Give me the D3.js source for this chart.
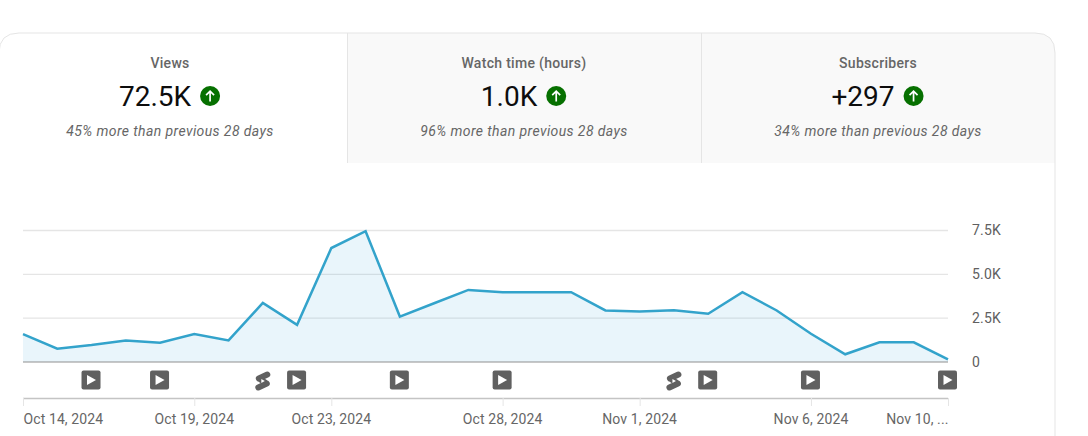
<!DOCTYPE html>
<html>
<head>
<meta charset="utf-8">
<script src="https://cdn.jsdelivr.net/npm/d3@7"></script>
<style>
    html, body { margin: 0; padding: 0; background: #fff; overflow: hidden; }
    svg { display: block; font-family: Roboto, sans-serif; }
</style>
</head>
<body>
<svg id="chart" width="1088" height="436"></svg>
<script>
// card metrics
let metricTitles = ["Views", "Watch time (hours)", "Subscribers"];
let metricValues = ["72.5K", "1.0K", "+297"];
let metricNotes = ["45% more than previous 28 days", "96% more than previous 28 days", "34% more than previous 28 days"];

// daily series, first day is Oct 14 2024
let dayLabels = ["2024-10-14", "2024-10-15", "2024-10-16", "2024-10-17", "2024-10-18", "2024-10-19", "2024-10-20",
    "2024-10-21", "2024-10-22", "2024-10-23", "2024-10-24", "2024-10-25", "2024-10-26", "2024-10-27",
    "2024-10-28", "2024-10-29", "2024-10-30", "2024-10-31", "2024-11-01", "2024-11-02", "2024-11-03",
    "2024-11-04", "2024-11-05", "2024-11-06", "2024-11-07", "2024-11-08", "2024-11-09", "2024-11-10"];
let viewValues = [1590, 760, 970, 1230, 1100, 1590, 1230, 3370, 2120, 6500, 7460, 2590, 3350, 4110,
    3980, 3980, 3980, 2940, 2880, 2950, 2750, 3980, 2940, 1610, 440, 1120, 1120, 150];

let yTicks = [0, 2500, 5000, 7500];
let yTickLabels = ["0", "2.5K", "5.0K", "7.5K"];
let xTickDays = ["2024-10-14", "2024-10-19", "2024-10-23", "2024-10-28", "2024-11-01", "2024-11-06", "2024-11-10"];
let xTickLabels = ["Oct 14, 2024", "Oct 19, 2024", "Oct 23, 2024", "Oct 28, 2024", "Nov 1, 2024", "Nov 6, 2024", "Nov 10, ..."];
let videoDays = ["2024-10-16", "2024-10-18", "2024-10-22", "2024-10-25", "2024-10-28", "2024-11-03", "2024-11-06", "2024-11-10"];
let shortDays = ["2024-10-21", "2024-11-02"];

let parseDay = d3.utcParse("%Y-%m-%d");
let svg = d3.select("svg#chart");

let cardLeft = -1, cardRight = 1055, cardTop = 33, tabBottom = 163, cardBottom = 436, radius = 20;
let tabEdges = [cardLeft, 347, 701, cardRight];

// card outline first, tabs are clipped by it
svg.append("clipPath").attr("id", "cardClip").append("path")
    .attr("d", `M${cardLeft},${cardBottom}V${cardTop + radius}Q${cardLeft},${cardTop} ${cardLeft + radius},${cardTop}H${cardRight - radius}Q${cardRight},${cardTop} ${cardRight},${cardTop + radius}V${cardBottom}Z`);

let tabs = svg.append("g").attr("clip-path", "url(#cardClip)");
metricTitles.forEach(function (title, i) {
    tabs.append("rect")
        .attr("x", tabEdges[i]).attr("y", cardTop)
        .attr("width", tabEdges[i + 1] - tabEdges[i]).attr("height", tabBottom - cardTop)
        .attr("fill", i === 0 ? "#ffffff" : "#f9f9f9");
});
[347, 701].forEach(function (x) {
    svg.append("line").attr("x1", x + 0.5).attr("x2", x + 0.5).attr("y1", cardTop).attr("y2", tabBottom)
        .attr("stroke", "#e5e5e5");
});
svg.append("path")
    .attr("d", `M${cardLeft},${cardBottom}V${cardTop + radius}Q${cardLeft},${cardTop} ${cardLeft + radius},${cardTop}H${cardRight - radius}Q${cardRight},${cardTop} ${cardRight},${cardTop + radius}V${cardBottom}`)
    .attr("fill", "none").attr("stroke", "#e5e5e5");

metricTitles.forEach(function (title, i) {
    let cx = (Math.max(tabEdges[i], 0) + tabEdges[i + 1]) / 2 - (i === 0 ? 3.5 : 0);
    let tab = svg.append("g").attr("transform", "translate(" + cx + ",0)");
    tab.append("text").attr("y", 67.5).attr("text-anchor", "middle")
        .style("font-size", "14px").style("font-weight", 500).style("letter-spacing", "0.3px")
        .style("fill", "#666666").text(title);
    let big = tab.append("text").attr("y", 106).attr("x", -15).attr("text-anchor", "middle")
        .style("font-size", "28px").style("fill", "#0d0d0d").text(metricValues[i]);
    let bigWidth = big.node().getComputedTextLength();
    let badge = tab.append("g").attr("transform", "translate(" + (-15 + bigWidth / 2 + 19) + ",96)");
    badge.append("circle").attr("r", 10).attr("fill", "#067000");
    badge.append("path").attr("d", "M0,5.5V-4.5M-4,-0.8L0,-4.8L4,-0.8")
        .attr("fill", "none").attr("stroke", "#ffffff").attr("stroke-width", 1.7);
    tab.append("text").attr("y", 136).attr("text-anchor", "middle")
        .style("font-size", "14px").style("font-style", "italic").style("letter-spacing", "0.4px")
        .style("fill", "#666666").text(metricNotes[i]);
});

// scales
let xScale = d3.scaleUtc().domain([parseDay(dayLabels[0]), parseDay(dayLabels[dayLabels.length - 1])]).range([23, 948]);
let yScale = d3.scaleLinear().domain([0, 7500]).range([362, 230.5]);

let points = dayLabels.map(function (d, i) { return { day: parseDay(d), val: viewValues[i] }; });

// gridlines
svg.append("g").selectAll("line").data(yTicks.filter(d => d > 0)).join("line")
    .attr("x1", xScale.range()[0]).attr("x2", xScale.range()[1])
    .attr("y1", d => yScale(d)).attr("y2", d => yScale(d))
    .attr("stroke", "#e5e5e5").attr("stroke-width", 1.3);

let area = d3.area().x(d => xScale(d.day)).y0(yScale(0)).y1(d => yScale(d.val));
let line = d3.line().x(d => xScale(d.day)).y(d => yScale(d.val));
svg.append("path").datum(points).attr("d", area).attr("fill", "#2a9fdc").attr("fill-opacity", 0.1);

svg.append("line").attr("x1", xScale.range()[0]).attr("x2", xScale.range()[1])
    .attr("y1", yScale(0)).attr("y2", yScale(0)).attr("stroke", "#909090").attr("stroke-width", 1.2);
svg.append("path").datum(points).attr("d", line).attr("fill", "none")
    .attr("stroke", "#33a3cb").attr("stroke-width", 2.5).attr("stroke-linejoin", "miter");

// y axis labels
let yAxis = d3.axisRight(yScale).tickValues(yTicks).tickSize(0).tickPadding(0)
    .tickFormat((d, i) => yTickLabels[i]);
let yAxisG = svg.append("g").attr("transform", "translate(972,0)").call(yAxis);
yAxisG.select(".domain").remove();
yAxisG.selectAll("text").style("font-size", "14px").style("font-family", "Roboto, sans-serif")
    .style("letter-spacing", "0.2px").style("fill", "#606060");

// x axis
let xAxis = d3.axisBottom(xScale).tickValues(xTickDays.map(parseDay)).tickSize(8).tickPadding(8)
    .tickFormat((d, i) => xTickLabels[i]);
let xAxisG = svg.append("g").attr("transform", "translate(0,398)").call(xAxis);
xAxisG.select(".domain").attr("stroke", "#c4c4c4").attr("stroke-width", 1.4).attr("d", "M23,0.5H948");
xAxisG.selectAll(".tick line").attr("stroke", "#e5e5e5");
xAxisG.selectAll("text").style("font-size", "14px").style("font-family", "Roboto, sans-serif")
    .style("letter-spacing", "0.1px").style("fill", "#666666")
    .attr("dx", (d, i) => i === 0 || i === xTickDays.length - 1 ? 0 : -0.5)
    .attr("text-anchor", (d, i) => i === 0 ? "start" : i === xTickDays.length - 1 ? "end" : "middle");

// content markers
let videoMarks = svg.append("g").selectAll("g").data(videoDays.map(parseDay)).join("g")
    .attr("transform", d => "translate(" + (xScale(d) - 0.5) + ",380)");
videoMarks.append("rect").attr("x", -9.5).attr("y", -9.5).attr("width", 19).attr("height", 19).attr("rx", 2).attr("fill", "#606060");
videoMarks.append("path").attr("d", "M-4,-5L5,0L-4,5Z").attr("fill", "#ffffff");

let shortMarks = svg.append("g").selectAll("g").data(shortDays.map(parseDay)).join("g")
    .attr("transform", d => "translate(" + xScale(d) + ",381)");
shortMarks.append("path")
    .attr("d", "M4.5,-6.5L-4,-2.5M-3,-2L3,2M4,2.5L-4.5,6.5")
    .attr("fill", "none").attr("stroke", "#606060").attr("stroke-width", 6).attr("stroke-linecap", "round");
shortMarks.append("path").attr("d", "M-1.5,-2L2,0L-1.5,2Z").attr("fill", "#ffffff");
</script>
</body>
</html>
